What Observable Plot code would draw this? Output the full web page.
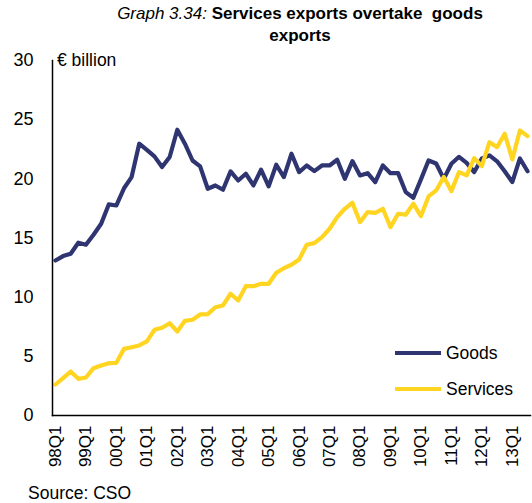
<!DOCTYPE html>
<html><head><meta charset="utf-8">
<script src="https://cdn.jsdelivr.net/npm/d3@7"></script>
<script src="https://cdn.jsdelivr.net/npm/@observablehq/plot@0.6"></script>
<style>
body{margin:0;background:#fff;font-family:"Liberation Sans",Arial,sans-serif;}
#wrap{position:relative;width:532px;height:503px;overflow:hidden;}
#title{position:absolute;left:90px;top:3px;width:420px;text-align:center;font-size:17px;line-height:22px;color:#000;}
#title i{font-style:italic;}
#title b{font-weight:bold;}
#unit{position:absolute;left:57px;top:50px;font-size:17.5px;}
#source{position:absolute;left:28px;top:483px;font-size:17.5px;}
#legend{position:absolute;left:395px;top:335px;font-size:17.5px;}
#legend .it{display:flex;align-items:center;height:36px;}
#legend .sw{width:46px;height:4px;margin-right:5px;}
</style></head><body><div id="wrap">
<div id="title"><i>Graph 3.34:</i> <b>Services exports overtake&nbsp; goods exports</b></div>
<div id="unit">€ billion</div>
<div id="legend"></div>
<div id="source">Source: CSO</div>
</div>
<script>
const quarters = ["98Q1","98Q2","98Q3","98Q4","99Q1","99Q2","99Q3","99Q4","00Q1","00Q2","00Q3","00Q4",
"01Q1","01Q2","01Q3","01Q4","02Q1","02Q2","02Q3","02Q4","03Q1","03Q2","03Q3","03Q4",
"04Q1","04Q2","04Q3","04Q4","05Q1","05Q2","05Q3","05Q4","06Q1","06Q2","06Q3","06Q4",
"07Q1","07Q2","07Q3","07Q4","08Q1","08Q2","08Q3","08Q4","09Q1","09Q2","09Q3","09Q4",
"10Q1","10Q2","10Q3","10Q4","11Q1","11Q2","11Q3","11Q4","12Q1","12Q2","12Q3","12Q4",
"13Q1","13Q2","13Q3"];
const goods = [13.1,13.47,13.67,14.6,14.43,15.27,16.2,17.84,17.75,19.2,
20.15,22.97,22.45,21.9,21.0,21.85,24.15,22.97,21.55,21.05,
19.16,19.44,19.08,20.63,19.86,20.43,19.44,20.77,19.36,21.19,
20.15,22.12,20.57,21.13,20.65,21.13,21.13,21.61,20.0,21.5,
20.29,20.48,19.72,21.13,20.48,20.48,18.88,18.4,19.95,21.55,
21.3,20.0,21.27,21.86,21.35,20.57,21.72,21.98,21.48,20.64,
19.72,21.72,20.64];
const services = [2.62,3.16,3.72,3.1,3.21,4.0,4.23,4.42,4.45,5.63,
5.77,5.92,6.26,7.24,7.41,7.8,7.1,8.0,8.09,8.54,
8.57,9.15,9.3,10.29,9.72,10.93,10.93,11.13,11.13,12.06,
12.45,12.74,13.19,14.43,14.57,15.07,15.78,16.76,17.47,17.98,
16.34,17.19,17.13,17.47,15.92,17.05,16.97,17.9,16.85,18.51,
19.02,20.15,18.96,20.57,20.29,21.75,21.07,23.1,22.68,23.81,
21.64,24.09,23.61];
const xTickLabels = ["98Q1","99Q1","00Q1","01Q1","02Q1","03Q1","04Q1","05Q1","06Q1","07Q1","08Q1","09Q1","10Q1","11Q1","12Q1","13Q1"];
const yTicks = [0,5,10,15,20,25,30];
const seriesNames = ["Goods","Services"];
const seriesColors = ["#2e3571","#ffd522"];

const rows = quarters.flatMap((q, i) => [
  {q, v: goods[i], s: seriesNames[0]},
  {q, v: services[i], s: seriesNames[1]}
]);

const chart = Plot.plot({
  width: 532, height: 503,
  marginTop: 60, marginBottom: 88, marginLeft: 52, marginRight: 2,
  style: {fontFamily: '"Liberation Sans", Arial, sans-serif', fontSize: "17px", color: "#000", background: "transparent"},
  x: {type: "point", domain: quarters, padding: 0.39, label: null},
  y: {domain: [0, 30], label: null},
  color: {domain: seriesNames, range: seriesColors},
  marks: [
    Plot.axisX({ticks: xTickLabels, tickSize: 0, tickRotate: -90, tickPadding: 10, fontSize: 17, label: null}),
    Plot.axisY({ticks: yTicks, tickSize: 0, tickPadding: 19, fontSize: 18, label: null}),
    Plot.lineY(rows, {x: "q", y: "v", z: "s", stroke: "s", strokeWidth: 4.2, strokeLinejoin: "round", strokeLinecap: "round"}),
    Plot.frame({anchor: "left", stroke: "#000", strokeWidth: 1.5}),
    Plot.frame({anchor: "bottom", stroke: "#000", strokeWidth: 1.5})
  ]
});
chart.style.position = "absolute";
chart.style.left = "0";
chart.style.top = "0";
document.getElementById("wrap").prepend(chart);

const legend = document.getElementById("legend");
seriesNames.forEach((name, i) => {
  const it = document.createElement("div");
  it.className = "it";
  const sw = document.createElement("span");
  sw.className = "sw";
  sw.style.background = seriesColors[i];
  it.appendChild(sw);
  it.appendChild(document.createTextNode(name));
  legend.appendChild(it);
});
</script>
</body></html>
